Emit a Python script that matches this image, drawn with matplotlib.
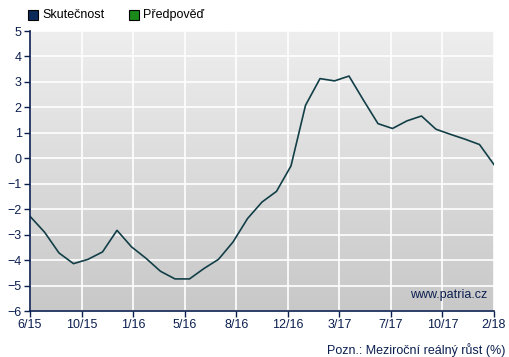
import numpy as np
import matplotlib.pyplot as plt
from matplotlib.patches import Rectangle

plt.rcParams['font.family'] = ['Liberation Sans', 'DejaVu Sans']

# monthly values 6/2015 .. 2/2018
values = [-2.28, -2.9, -3.72, -4.14, -3.97, -3.68, -2.83, -3.48, -3.93, -4.44,
          -4.74, -4.74, -4.33, -3.97, -3.29, -2.37, -1.72, -1.3, -0.3, 2.08,
          3.13, 3.04, 3.23, 2.28, 1.36, 1.17, 1.47, 1.66, 1.14, 0.94,
          0.75, 0.54, -0.25]
tick_labels = ['6/15', '10/15', '1/16', '5/16', '8/16', '12/16', '3/17', '7/17',
               '10/17', '2/18']

navy = '#0b1f4f'
line_col = '#123f47'

x = np.arange(len(values))

fig = plt.figure(figsize=(5.09, 3.57), dpi=100)
ax = fig.add_axes([30 / 509, 1 - 311 / 357, 464 / 509, 280 / 357])

# gradient background
grad = np.linspace(0, 1, 256).reshape(-1, 1)
ax.imshow(grad, extent=[0, 1, 0, 1], transform=ax.transAxes, aspect='auto',
          cmap=plt.matplotlib.colors.LinearSegmentedColormap.from_list(
              'bg', ['#c8c8c8', '#eeeeee']), origin='lower', zorder=0)

ax.set_xlim(0, len(values) - 1)
ax.set_ylim(-6, 5)
ax.set_xticks(np.linspace(0, len(values) - 1, len(tick_labels)))
ax.set_xticklabels(tick_labels)
ax.set_yticks(range(-6, 6))
ax.grid(True, color='white', linewidth=1.2, zorder=1)
ax.set_axisbelow(False)

ax.plot(x, values, color=line_col, linewidth=1.2, zorder=3)

for s in ['top', 'right']:
    ax.spines[s].set_visible(False)
for s in ['left', 'bottom']:
    ax.spines[s].set_color(navy)
    ax.spines[s].set_linewidth(1.2)
    ax.spines[s].set_zorder(4)
ax.tick_params(colors=navy, labelcolor=navy, labelsize=9, length=4, width=1,
               direction='out', pad=2)

ax.text(0.985, 0.035, 'www.patria.cz', transform=ax.transAxes, ha='right',
        va='bottom', color=navy, fontsize=9, zorder=5)

# legend
fig.patches.append(Rectangle((28 / 509, 1 - 20 / 357), 10 / 509, 10 / 357,
                             transform=fig.transFigure, facecolor='#0b2a5a',
                             edgecolor='black', linewidth=0.8))
fig.text(42 / 509, 1 - 15 / 357, 'Skutečnost', ha='left', va='center',
         fontsize=9, color='black')
fig.patches.append(Rectangle((129 / 509, 1 - 20 / 357), 10 / 509, 10 / 357,
                             transform=fig.transFigure, facecolor='#1a8a1a',
                             edgecolor='black', linewidth=0.8))
fig.text(143 / 509, 1 - 15 / 357, 'Předpověď', ha='left', va='center',
         fontsize=9, color='black')

fig.text(505 / 509, 1 - 350 / 357, 'Pozn.: Meziroční reálný růst (%)',
         ha='right', va='center', fontsize=9, color=navy)

fig.savefig('out.png', dpi=100)
